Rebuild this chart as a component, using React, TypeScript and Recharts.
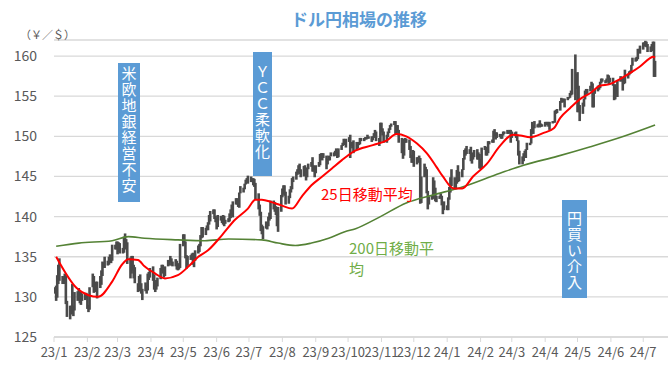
import React from 'react';
import { ComposedChart, Bar, Line, XAxis, YAxis, CartesianGrid } from 'recharts';

// daily [low, high] in yen per dollar, one entry per weekday of the month
const jan23: [number, number][] = [
  [130.4, 131.2], [129.5, 131.4], [129.9, 132.7], [131.6, 134.0], [132.0, 134.8], [131.6, 132.6],
  [131.6, 132.4], [131.9, 132.9], [129.1, 132.6], [127.5, 129.5], [127.2, 128.9], [127.8, 128.9],
  [127.9, 131.6], [127.6, 128.9], [128.3, 130.6], [129.5, 130.7], [129.9, 131.1], [129.2, 130.6],
  [129.0, 130.6], [129.5, 130.4], [129.6, 130.5], [129.8, 130.5],
];
const feb23: [number, number][] = [
  [128.5, 130.2], [128.1, 129.0], [128.4, 131.2], [131.2, 132.9], [130.5, 132.6], [130.6, 131.5],
  [130.9, 131.9], [129.8, 131.9], [131.1, 132.6], [131.5, 133.3], [132.6, 134.4], [133.6, 134.3],
  [133.6, 135.0], [133.9, 134.5], [134.0, 135.0], [134.6, 135.3], [134.2, 135.0], [134.5, 136.5],
  [135.9, 136.5], [135.9, 136.9],
];
const mar23: [number, number][] = [
  [135.3, 136.9], [135.6, 136.8], [135.4, 136.7], [135.4, 136.1], [135.5, 137.5], [136.9, 137.9],
  [135.9, 137.2], [134.1, 136.8], [132.3, 134.9], [132.9, 135.1], [133.3, 135.1], [132.3, 134.0],
  [131.7, 133.7], [130.6, 131.7], [131.1, 132.6], [130.7, 132.8], [130.4, 131.7], [129.6, 131.0],
  [130.7, 131.8], [130.4, 131.4], [130.8, 132.9], [132.1, 133.1], [132.4, 133.6],
];
const apr23: [number, number][] = [
  [132.0, 133.8], [130.9, 132.8], [130.6, 131.7], [130.9, 132.1], [131.3, 132.4], [132.2, 133.6],
  [133.2, 134.0], [132.9, 134.0], [132.4, 133.4], [132.6, 133.8], [133.8, 134.6], [133.9, 134.6],
  [134.3, 135.1], [133.9, 134.8], [133.8, 134.4], [133.8, 134.7], [133.4, 134.5], [133.3, 133.9],
  [133.4, 134.2], [133.6, 136.6],
];
const may23: [number, number][] = [
  [136.3, 137.8], [136.5, 137.8], [134.8, 136.9], [133.5, 135.2], [133.9, 135.1], [134.6, 135.2],
  [134.9, 135.4], [134.0, 135.5], [133.7, 134.8], [134.5, 135.8], [135.4, 136.4], [135.6, 136.6],
  [136.3, 137.7], [137.3, 138.7], [137.4, 138.7], [137.7, 138.6], [138.3, 138.9], [138.3, 139.3],
  [139.0, 140.2], [139.4, 140.7], [140.3, 140.9], [139.7, 140.9], [139.3, 140.1],
];
const jun23: [number, number][] = [
  [138.4, 139.8], [138.7, 140.2], [139.5, 140.1], [139.2, 139.9], [139.0, 140.2], [138.8, 140.1],
  [139.1, 139.6], [139.3, 139.8], [139.4, 140.4], [139.8, 140.9], [140.3, 141.5], [139.9, 141.9],
  [141.5, 142.3], [141.5, 142.3], [141.2, 141.9], [141.1, 143.0], [142.9, 143.8], [143.0, 143.6],
  [143.4, 144.1], [144.0, 144.6], [144.2, 144.8], [144.1, 145.1],
];
const jul23: [number, number][] = [
  [144.3, 145.0], [144.3, 144.7], [143.9, 144.8], [143.7, 144.7], [142.1, 144.2], [140.9, 142.9],
  [140.1, 141.5], [138.2, 140.6], [137.8, 139.0], [137.2, 138.8], [138.5, 139.4], [138.4, 139.3],
  [138.8, 140.0], [139.5, 140.5], [139.7, 142.0], [140.9, 142.0], [140.6, 141.8], [140.2, 141.3],
  [138.8, 140.3], [138.1, 141.2], [140.6, 142.7],
];
const aug23: [number, number][] = [
  [142.4, 143.5], [142.8, 143.9], [142.6, 143.9], [141.5, 143.1], [141.6, 142.6], [142.3, 143.4],
  [143.0, 143.8], [143.4, 144.8], [144.3, 145.0], [144.6, 145.6], [145.2, 145.9], [145.4, 146.4],
  [145.3, 146.6], [144.9, 145.9], [145.0, 146.3], [145.6, 146.4], [144.5, 146.1], [144.9, 146.1],
  [145.9, 146.6], [146.2, 146.8], [145.6, 147.4], [145.6, 146.4], [144.9, 146.3],
];
const sep23: [number, number][] = [
  [145.4, 146.4], [146.2, 146.8], [146.4, 147.8], [147.3, 147.9], [147.0, 147.9], [147.3, 147.9],
  [145.9, 147.6], [146.5, 147.2], [147.0, 147.6], [147.0, 147.5], [147.5, 148.0], [147.5, 148.0],
  [147.6, 148.2], [147.6, 148.5], [147.3, 148.1], [147.4, 148.5], [148.3, 148.9], [148.8, 149.2],
  [148.9, 149.7], [149.1, 149.6], [148.6, 149.7],
];
const oct23: [number, number][] = [
  [149.3, 149.9], [147.3, 150.2], [148.8, 149.3], [148.5, 149.3], [147.9, 149.5], [148.3, 149.3],
  [148.5, 149.0], [148.9, 149.3], [149.0, 149.8], [149.4, 149.8], [149.4, 149.8], [149.6, 149.9],
  [149.6, 149.9], [149.7, 150.2], [149.7, 150.0], [149.3, 150.0], [149.5, 150.0], [149.8, 150.4],
  [150.0, 150.8], [149.4, 150.6], [148.8, 149.8], [149.2, 151.7],
];
const nov23: [number, number][] = [
  [150.5, 151.7], [150.1, 151.0], [149.2, 150.6], [149.2, 150.2], [149.9, 150.6], [150.4, 151.0],
  [150.8, 151.4], [151.2, 151.6], [151.4, 151.9], [150.3, 151.9], [150.3, 151.4], [150.5, 151.4],
  [149.2, 150.8], [147.9, 149.8], [147.2, 148.5], [147.6, 149.7], [149.2, 149.8], [149.2, 149.7],
  [148.3, 149.6], [147.3, 148.8], [146.7, 147.7], [146.7, 148.3],
];
const dec23: [number, number][] = [
  [146.2, 148.2], [146.5, 147.4], [146.7, 147.4], [146.9, 147.6], [141.6, 147.3], [141.7, 145.0],
  [144.9, 146.6], [145.1, 146.2], [142.9, 145.9], [140.9, 143.2], [141.5, 142.5], [142.1, 142.7],
  [142.2, 144.9], [143.3, 144.5], [141.9, 143.6], [141.8, 142.6], [142.2, 142.6], [142.3, 142.9],
  [141.4, 142.6], [140.3, 141.8], [140.8, 141.9],
];
const jan24: [number, number][] = [
  [140.8, 141.4], [140.8, 142.4], [142.1, 143.7], [143.0, 144.9], [143.8, 145.9], [143.4, 144.9],
  [143.4, 144.4], [144.1, 145.8], [144.3, 146.4], [144.4, 145.6], [144.9, 145.9], [145.8, 147.3],
  [147.1, 148.3], [147.6, 148.5], [147.8, 148.8], [147.8, 148.4], [146.9, 148.7], [146.6, 148.0],
  [147.1, 147.8], [147.4, 148.3], [147.1, 148.4], [147.1, 148.0], [146.0, 147.8],
];
const feb24: [number, number][] = [
  [145.9, 147.2], [146.0, 148.6], [148.3, 148.8], [147.6, 148.7], [147.6, 148.3], [147.9, 149.4],
  [149.0, 149.4], [149.2, 149.6], [149.2, 150.7], [150.0, 150.9], [149.6, 150.5], [149.8, 150.5],
  [149.9, 150.3], [149.7, 150.2], [149.7, 150.3], [150.1, 150.6], [150.3, 150.6], [150.3, 150.8],
  [150.3, 150.7], [150.4, 150.8], [149.2, 150.8],
];
const mar24: [number, number][] = [
  [149.8, 150.6], [150.1, 150.5], [149.8, 150.6], [149.4, 150.1], [147.6, 149.5], [146.5, 148.2],
  [146.5, 147.5], [146.9, 147.9], [147.5, 148.2], [147.3, 148.4], [148.3, 149.2], [148.9, 149.2],
  [149.1, 150.9], [150.3, 151.8], [150.3, 151.4], [151.0, 151.9], [151.1, 151.5], [151.3, 151.6],
  [151.1, 152.0], [151.2, 151.6], [151.2, 151.5],
];
const apr24: [number, number][] = [
  [151.2, 151.8], [151.4, 151.8], [151.4, 151.8], [151.2, 151.8], [150.8, 151.8], [151.6, 151.9],
  [151.7, 151.9], [151.7, 153.2], [152.8, 153.3], [152.9, 153.4], [153.2, 154.4], [154.2, 154.8],
  [154.2, 154.7], [154.3, 154.7], [153.6, 154.7], [154.5, 154.9], [154.7, 154.9], [154.8, 155.4],
  [155.1, 155.7], [155.2, 158.4], [154.5, 160.2], [155.9, 157.8],
];
const may24: [number, number][] = [
  [153.0, 158.0], [153.0, 156.3], [151.9, 153.9], [152.8, 154.2], [153.7, 154.7], [154.6, 155.7],
  [155.2, 155.9], [155.3, 155.9], [155.6, 156.3], [156.0, 156.8], [153.6, 156.6], [153.6, 155.4],
  [155.3, 155.8], [155.6, 156.3], [155.8, 156.4], [156.0, 156.8], [156.6, 157.2], [156.8, 157.2],
  [156.6, 157.0], [156.7, 157.2], [157.1, 157.7], [156.5, 157.6], [156.7, 157.3],
];
const jun24: [number, number][] = [
  [156.3, 157.3], [154.5, 156.4], [154.6, 156.5], [155.3, 156.2], [154.9, 157.0], [156.8, 157.5],
  [156.9, 157.4], [155.7, 157.4], [156.5, 157.3], [156.6, 158.3], [157.2, 157.8], [157.6, 158.1],
  [157.8, 158.2], [157.9, 158.9], [158.8, 159.8], [159.3, 159.8], [159.4, 159.9], [159.6, 160.9],
  [160.4, 160.9], [160.3, 161.3],
];
const jul24: [number, number][] = [
  [160.8, 161.7], [161.2, 161.7], [161.2, 161.9], [161.1, 161.8], [160.5, 161.5], [160.5, 161.2],
  [160.6, 161.5], [161.2, 161.8], [157.4, 161.8], [157.4, 159.4],
];

// 25日移動平均
const ma25: [string, number][] = [
  ['2023-01-03', 135.0], ['2023-01-22', 131.1], ['2023-02-02', 130.2], ['2023-02-11', 130.0],
  ['2023-02-24', 131.9], ['2023-03-05', 134.0], ['2023-03-11', 134.7], ['2023-03-20', 134.6],
  ['2023-03-26', 133.8], ['2023-04-05', 132.9], ['2023-04-14', 132.3], ['2023-04-26', 132.7],
  ['2023-05-06', 133.8], ['2023-05-15', 135.0], ['2023-05-24', 135.8], ['2023-06-06', 137.7],
  ['2023-06-18', 139.6], ['2023-06-30', 141.0], ['2023-07-07', 142.1], ['2023-07-13', 142.1],
  ['2023-07-22', 141.8], ['2023-07-31', 141.4], ['2023-08-10', 141.0], ['2023-08-19', 142.5],
  ['2023-08-28', 143.9], ['2023-09-07', 145.0], ['2023-09-16', 146.0], ['2023-09-25', 147.0],
  ['2023-10-06', 148.1], ['2023-10-24', 148.9], ['2023-11-06', 149.5], ['2023-11-15', 150.3],
  ['2023-11-24', 150.0], ['2023-12-04', 149.1], ['2023-12-13', 147.9], ['2023-12-22', 146.2],
  ['2023-12-28', 145.0], ['2024-01-07', 143.5], ['2024-01-15', 143.5], ['2024-01-25', 145.0],
  ['2024-02-07', 146.6], ['2024-02-19', 148.8], ['2024-03-02', 150.2], ['2024-03-09', 150.1],
  ['2024-03-18', 149.9], ['2024-03-30', 150.4], ['2024-04-09', 151.0], ['2024-04-15', 152.3],
  ['2024-04-24', 153.5], ['2024-05-03', 154.6], ['2024-05-13', 155.4], ['2024-05-22', 156.3],
  ['2024-05-31', 156.5], ['2024-06-09', 157.1], ['2024-06-19', 157.9], ['2024-06-28', 158.7],
  ['2024-07-07', 159.7], ['2024-07-10', 159.9], ['2024-07-12', 159.8],
];

// 200日移動平均
const ma200: [string, number][] = [
  ['2023-01-03', 136.3], ['2023-01-24', 136.7], ['2023-02-24', 137.0], ['2023-03-11', 137.5],
  ['2023-03-26', 137.3], ['2023-04-26', 137.1], ['2023-05-21', 137.0], ['2023-06-12', 137.2],
  ['2023-07-13', 137.1], ['2023-07-28', 136.7], ['2023-08-13', 136.4], ['2023-08-28', 136.7],
  ['2023-09-13', 137.3], ['2023-09-28', 138.1], ['2023-10-08', 138.5], ['2023-10-31', 140.0],
  ['2023-11-24', 141.7], ['2023-12-19', 142.7], ['2024-01-13', 143.6], ['2024-02-19', 145.4],
  ['2024-03-12', 146.4], ['2024-04-12', 147.5], ['2024-05-13', 148.7], ['2024-06-13', 150.0],
  ['2024-07-12', 151.4],
];

const tickLabels = [
  '23/1', '23/2', '23/3', '23/4', '23/5', '23/6', '23/7', '23/8', '23/9', '23/10',
  '23/11', '23/12', '24/1', '24/2', '24/3', '24/4', '24/5', '24/6', '24/7',
];
const yTicks = [125, 130, 135, 140, 145, 150, 155, 160];

const monthBars = [
  { year: 2023, month: 0, bars: jan23 }, { year: 2023, month: 1, bars: feb23 },
  { year: 2023, month: 2, bars: mar23 }, { year: 2023, month: 3, bars: apr23 },
  { year: 2023, month: 4, bars: may23 }, { year: 2023, month: 5, bars: jun23 },
  { year: 2023, month: 6, bars: jul23 }, { year: 2023, month: 7, bars: aug23 },
  { year: 2023, month: 8, bars: sep23 }, { year: 2023, month: 9, bars: oct23 },
  { year: 2023, month: 10, bars: nov23 }, { year: 2023, month: 11, bars: dec23 },
  { year: 2024, month: 0, bars: jan24 }, { year: 2024, month: 1, bars: feb24 },
  { year: 2024, month: 2, bars: mar24 }, { year: 2024, month: 3, bars: apr24 },
  { year: 2024, month: 4, bars: may24 }, { year: 2024, month: 5, bars: jun24 },
  { year: 2024, month: 6, bars: jul24 },
];

const ORIGIN = Date.UTC(2023, 0, 1);
const dayOf = (y: number, m: number, d: number) => (Date.UTC(y, m, d) - ORIGIN) / 86400000;
const parseDay = (s: string) => {
  const [y, m, d] = s.split('-').map(Number);
  return dayOf(y, m - 1, d);
};

const candles = monthBars.flatMap(({ year, month, bars }) => {
  const out: { t: number; range: [number, number] }[] = [];
  let i = 0;
  for (let d = 1; d <= 31 && i < bars.length; d++) {
    const dt = new Date(Date.UTC(year, month, d));
    if (dt.getUTCMonth() !== month) break;
    const wd = dt.getUTCDay();
    if (wd === 0 || wd === 6) continue;
    out.push({ t: dayOf(year, month, d), range: bars[i] });
    i++;
  }
  return out;
});

const ma25Data = ma25.map(([d, v]) => ({ t: parseDay(d), v }));
const ma200Data = ma200.map(([d, v]) => ({ t: parseDay(d), v }));

const tickDays = tickLabels.map((l) => {
  const [yy, mm] = l.split('/').map(Number);
  return dayOf(2000 + yy, mm - 1, 1);
});
const labelByDay: Record<number, string> = {};
tickDays.forEach((t, i) => { labelByDay[t] = tickLabels[i]; });

const FONT = "'Noto Sans CJK JP', 'Noto Sans', sans-serif";
const BLUE = '#5b9bd5';
const CANDLE_W = 2.6;

// the day band on a date axis is only ~1px, so widen each high-low bar around its centre
const CandleShape = (props: any) => {
  const { x, y, width, height } = props;
  if (x == null || y == null) return null;
  const cx = x + width / 2;
  return <rect x={cx - CANDLE_W / 2} y={y} width={CANDLE_W} height={Math.max(height, 1)} fill="#4a4a4a" />;
};

const boxStyle: React.CSSProperties = {
  position: 'absolute',
  background: BLUE,
  color: '#fff',
  writingMode: 'vertical-rl',
  fontSize: 15,
  lineHeight: '1',
  letterSpacing: 1,
  display: 'flex',
  alignItems: 'center',
  boxSizing: 'border-box',
};

export default function App() {
  return (
    <div style={{ position: 'relative', width: 670, height: 377, background: '#fff', fontFamily: FONT }}>
      <style>{'body{margin:0}'}</style>
      <ComposedChart
        width={670}
        height={377}
        data={candles}
        margin={{ top: 40, right: 2, bottom: 10, left: 0 }}
      >
        <CartesianGrid vertical={false} stroke="#d9d9d9" strokeWidth={1.3} />
        <XAxis
          dataKey="t"
          type="number"
          domain={[0, 570]}
          ticks={tickDays}
          interval={0}
          allowDataOverflow
          tickFormatter={(v: number) => labelByDay[v] ?? ''}
          tickSize={5}
          tickMargin={6}
          height={30}
          axisLine={{ stroke: '#d9d9d9', strokeWidth: 1.3 }}
          tickLine={{ stroke: '#d9d9d9' }}
          tick={{ fill: '#595959', fontSize: 13, fontFamily: FONT }}
        />
        <YAxis
          type="number"
          domain={[125, 162]}
          ticks={yTicks}
          allowDataOverflow
          width={54}
          axisLine={false}
          tickLine={false}
          tickMargin={11}
          tick={{ fill: '#595959', fontSize: 14, fontFamily: FONT }}
        />
        <Bar dataKey="range" shape={CandleShape} fill="#4a4a4a" isAnimationActive={false} />
        <Line
          data={ma200Data}
          dataKey="v"
          type="monotone"
          stroke="#548235"
          strokeWidth={1.6}
          dot={false}
          isAnimationActive={false}
        />
        <Line
          data={ma25Data}
          dataKey="v"
          type="monotone"
          stroke="#ff0000"
          strokeWidth={2}
          dot={false}
          isAnimationActive={false}
        />
      </ComposedChart>

      <div style={{ position: 'absolute', left: 291, top: 6, fontSize: 17, fontWeight: 700, color: BLUE }}>
        ドル円相場の推移
      </div>
      <div style={{ position: 'absolute', left: 20, top: 26, fontSize: 11, lineHeight: '16px', color: '#595959' }}>
        （￥／＄）
      </div>

      <div style={{ ...boxStyle, left: 118, top: 63, width: 22, height: 139, paddingTop: 3 }}>
        米欧地銀経営不安
      </div>
      <div style={{ ...boxStyle, left: 253, top: 52, width: 19, height: 124, paddingTop: 12 }}>
        ＹＣＣ柔軟化
      </div>
      <div style={{ ...boxStyle, left: 562, top: 200, width: 25, height: 98, paddingTop: 11 }}>
        円買い介入
      </div>

      <div style={{ position: 'absolute', left: 321, top: 184, fontSize: 15, lineHeight: '20px', color: '#ff0000' }}>
        25日移動平均
      </div>
      <div style={{ position: 'absolute', left: 349, top: 237, fontSize: 15, lineHeight: '21px', color: '#70ad47' }}>
        200日移動平
        <br />
        均
      </div>
    </div>
  );
}
